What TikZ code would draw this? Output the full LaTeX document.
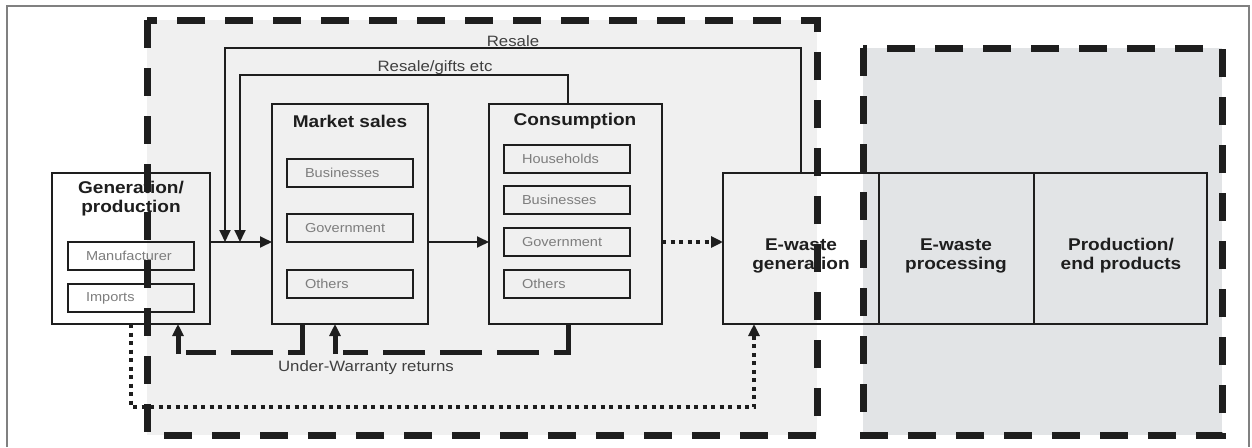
\documentclass[tikz,border=0pt]{standalone}
\usepackage{fontspec}
\setmainfont[FakeStretch=1.12]{Liberation Sans}
\usetikzlibrary{arrows.meta}
\definecolor{zonelight}{RGB}{240,240,240}
\definecolor{zonedark}{RGB}{226,228,230}
\definecolor{ink}{RGB}{30,30,30}
\definecolor{itemink}{RGB}{125,125,125}
\begin{document}
\begin{tikzpicture}[x=1pt,y=-1pt,
  box/.style={draw=ink, line width=2pt, outer sep=0pt, inner sep=0pt, anchor=north west},
  wbox/.style={draw=ink, line width=1.6pt, outer sep=0pt, inner sep=0pt, anchor=north west},
  item/.style={draw=ink, line width=2.4pt, outer sep=0pt, anchor=north west,
    minimum height=28pt, inner ysep=0pt, inner xsep=18pt, text width=90pt, align=left,
    text=itemink, font=\fontsize{13}{15}\selectfont},
  title/.style={font=\bfseries\fontsize{17}{19}\selectfont, align=center, text=ink, inner sep=0pt},
  lbl/.style={font=\fontsize{15}{17}\selectfont, text=ink!85, inner sep=0pt},
  flow/.style={draw=ink, line width=1.8pt},
  arr/.style={-{Triangle[length=12pt,width=11pt]}},
  ret/.style={draw=ink, line width=5pt, dash pattern=on 42pt off 15pt},
  retshaft/.style={draw=ink, line width=5pt},
  dots/.style={draw=ink, line width=4.5pt, dash pattern=on 4pt off 4.5pt},
  zone/.style={outer sep=0pt, inner sep=0pt, anchor=north west},
  zoneline/.style={draw=ink, line width=7pt, dash pattern=on 28pt off 20pt}]
\useasboundingbox (0,0) rectangle (1252,447);
\fill[white] (0,0) rectangle (1252,447);
% outer frame
\draw[gray, line width=1.3pt] (7,447) -- (7,6) -- (1249,6) -- (1249,447);

% shaded zones
\node[zone, fill=zonedark, minimum width=359pt, minimum height=387pt] (zoneB) at (863,48) {};
\node[zone, fill=zonelight, minimum width=670pt, minimum height=415pt] (zoneA) at (147,20) {};

% main boxes
\node[box, minimum width=158pt, minimum height=151pt] (gen) at (52,173) {};
\node[box, minimum width=156pt, minimum height=220pt] (mkt) at (272,104) {};
\node[box, minimum width=173pt, minimum height=220pt] (con) at (489,104) {};
\node[wbox, minimum width=156pt, minimum height=151pt] (ewg) at (723,173) {};
\node[wbox, fill=zonedark, minimum width=155pt, minimum height=151pt] (ewp) at (879,173) {};
\node[wbox, fill=zonedark, minimum width=173pt, minimum height=151pt] (ewe) at (1034,173) {};

% titles
\node[title] (gent) at (131,199) {Generation/\\production};
\node[title] (mktt) at (350,121) {Market sales};
\node[title] (cont) at (575,121) {Consumption};
\node[title] (ewgt) at (801,256) {E-waste\\generation};
\node[title] (ewpt) at (956,256) {E-waste\\processing};
\node[title] (ewet) at (1121,256) {Production/\\end products};

% items
\node[item] (manu) at (68,242) {Manufacturer};
\node[item] (imp) at (68,284) {Imports};
\node[item] (mb) at (287,159) {Businesses};
\node[item] (mg) at (287,214) {Government};
\node[item] (mo) at (287,270) {Others};
\node[item] (ch) at (504,145) {Households};
\node[item] (cb) at (504,186) {Businesses};
\node[item] (cg) at (504,228) {Government};
\node[item] (co) at (504,270) {Others};

% main flow
\coordinate (fy) at (0,242);
\draw[flow,arr] (gen.east |- fy) -- (mkt.west |- fy);
\draw[flow,arr] (mkt.east |- fy) -- (con.west |- fy);
\draw[dots,arr] (con.east |- fy) -- (ewg.west |- fy);

% resale loops
\coordinate (rsx) at (801,48);
\coordinate (rsl) at (225,48);
\draw[flow,arr] (ewg.north -| rsx) -- (rsx) -- (rsl) -- (rsl |- fy);
\coordinate (rgx) at (568,75);
\coordinate (rgl) at (240,75);
\draw[flow,arr] (con.north -| rgx) -- (rgx) -- (rgl) -- (rgl |- fy);
\node[lbl] (rslab) at (513,41) {Resale};
\node[lbl] (rglab) at (435,68) {Resale/gifts etc};

% under-warranty returns
\coordinate (wy) at (0,352);
\coordinate (w1) at (568,0);
\coordinate (w2) at (335,0);
\coordinate (w3) at (302,0);
\coordinate (w4) at (178,0);
\draw[ret] (con.south -| w1) -- (w1 |- wy) -- ([xshift=8pt]w2 |- wy);
\draw[retshaft,arr] ([yshift=-2pt]w2 |- wy) -- (mkt.south -| w2);
\draw[ret] (mkt.south -| w3) -- (w3 |- wy) -- ([xshift=8pt]w4 |- wy);
\draw[retshaft,arr] ([yshift=-2pt]w4 |- wy) -- (gen.south -| w4);
\node[lbl] (wlab) at (366,368) {Under-Warranty returns};

% disposal straight to e-waste
\coordinate (d1) at (131,407);
\coordinate (d2) at (754,407);
\draw[dots,arr] (gen.south -| d1) -- (d1) -- (d2) -- (ewg.south -| d2);

% zone borders
\draw[zoneline] (zoneA.north west) rectangle (zoneA.south east);
\draw[zoneline] (zoneB.north west) rectangle (zoneB.south east);
\end{tikzpicture}
\end{document}
